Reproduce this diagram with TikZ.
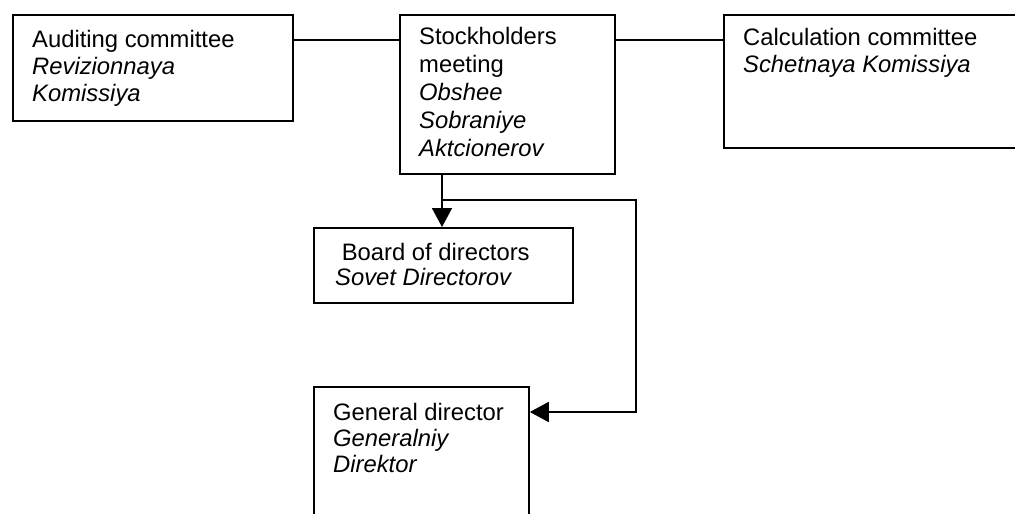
\documentclass[tikz,border=0pt]{standalone}
\usepackage{fontspec}
\setmainfont{Liberation Sans}
\usetikzlibrary{arrows.meta}
\begin{document}
\begin{tikzpicture}[x=1pt,y=-1pt,
  box/.style={draw,line width=1.8pt,rectangle,anchor=north west,inner sep=0pt},
  % labels are placed by the baseline of their last line
  lbl/.style={anchor=base west,inner sep=0pt,align=left,font=\fontsize{23.8}{27}\selectfont},
  link/.style={line width=1.8pt},
  arr/.style={link,-{Triangle[length=19pt,width=20pt]}}]
\useasboundingbox (0,0) rectangle (1015,514);
\clip (0,0) rectangle (1015,514);

% boxes
\node[box,minimum width=280pt,minimum height=106pt] (aud) at (12,14) {};
\node[box,minimum width=215pt,minimum height=159pt] (stock) at (399,14) {};
\node[box,minimum width=330pt,minimum height=133pt] (calc) at (723,14) {};
\node[box,minimum width=259pt,minimum height=75pt] (board) at (313,227) {};
\node[box,minimum width=215pt,minimum height=160pt] (gen) at (313,386) {};

% labels
\node[lbl] (audt) at (32,101) {Auditing committee\\\textit{Revizionnaya}\\\textit{Komissiya}};
\node[lbl,font=\fontsize{23.8}{27.8}\selectfont] (stockt) at (419,156) {Stockholders\\meeting\\\textit{Obshee}\\\textit{Sobraniye}\\\textit{Aktcionerov}};
\node[lbl] (calct) at (743,72) {Calculation committee\\\textit{Schetnaya Komissiya}};
\node[lbl,font=\fontsize{23.8}{24.5}\selectfont] (boardt) at (335,285) {\ Board of directors\\\textit{Sovet Directorov}};
\node[lbl,font=\fontsize{23.8}{26}\selectfont] (gent) at (333,472) {General director\\\textit{Generalniy}\\\textit{Direktor}};

% connectors
\coordinate (split) at (442,200);
\coordinate (turn1) at (636,200);
\coordinate (turn2) at (636,412);
\draw[link] (aud.east |- 0,40) -- (stock.west |- 0,40);
\draw[link] (stock.east |- 0,40) -- (calc.west |- 0,40);
\draw[arr] (stock.south -| split) -- (board.north -| split);
\draw[arr] (split) -- (turn1) -- (turn2) -- (gen.east |- turn2);
\end{tikzpicture}
\end{document}
